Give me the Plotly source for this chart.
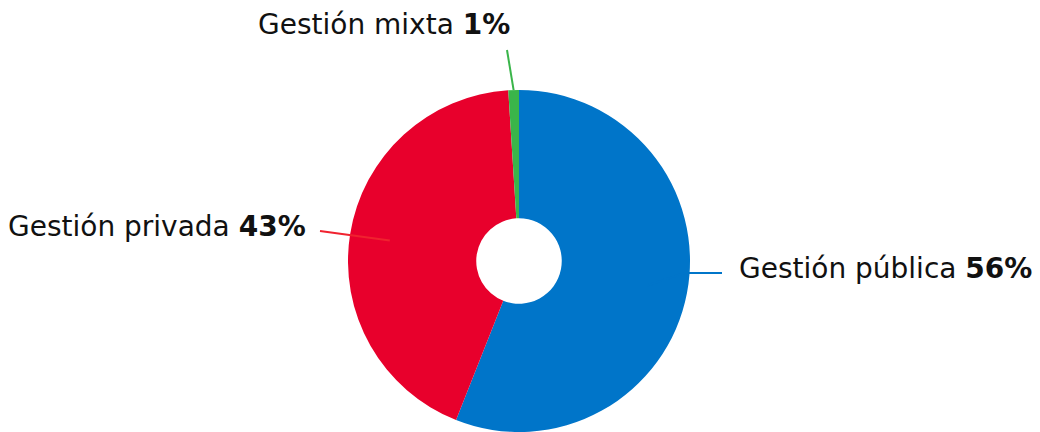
import math
import plotly.graph_objects as go

# ---- data ----
categories = ["Gestión pública", "Gestión privada", "Gestión mixta"]
values = [56, 43, 1]
colors = ["#0075C9", "#E8002C", "#3AB54A"]
line_colors = ["#0075C9", "#F0222F", "#3AB54A"]

# ---- layout constants (pixels) ----
W, H = 1040, 432
CX, CY, R = 519, 261, 171          # pie centre / radius in px (from top-left)
HOLE = 0.25
FONT = "DejaVu Sans"
FSIZE = 28

# leader-line outer ends, optional elbows, and text anchors, in px
line_out = [(722, 273), (320, 231), (507, 50)]
elbows = [(684, 273), None, None]
text_pos = [(737, 268, "left"), (308, 227, "right"), (512, 25, "right")]
inner_frac = [0.765, 0.765, 1.0]

def px2paper(x, y):
    return x / W, 1 - y / H

fig = go.Figure(go.Pie(
    labels=categories, values=values, sort=False, direction="clockwise",
    rotation=0, hole=HOLE, textinfo="none", hoverinfo="label+percent",
    marker=dict(colors=colors, line=dict(width=0)),
    domain=dict(x=[(CX - R) / W, (CX + R) / W], y=[0, 2 * R / H]),
    showlegend=False,
))

total = sum(values)
cum = 0
shapes, annotations = [], []
for i, (cat, v) in enumerate(zip(categories, values)):
    mid = (cum + v / 2) / total * 2 * math.pi
    cum += v
    r = R * inner_frac[i]
    pts = [(CX + r * math.sin(mid), CY - r * math.cos(mid))]
    if elbows[i]:
        pts.append(elbows[i])
    pts.append(line_out[i])
    path = ""
    for k, (px, py) in enumerate(pts):
        X, Y = px2paper(px, py)
        path += ("M " if k == 0 else " L ") + f"{X:.5f},{Y:.5f}"
    shapes.append(dict(type="path", xref="paper", yref="paper", path=path,
                       line=dict(color=line_colors[i], width=2)))
    tx, ty, anchor = text_pos[i]
    ax, ay = px2paper(tx, ty)
    pct = round(v / total * 100)
    annotations.append(dict(xref="paper", yref="paper", x=ax, y=ay,
                            text=f"{cat} <b>{pct}%</b>", showarrow=False,
                            xanchor=anchor, yanchor="middle",
                            font=dict(family=FONT, size=FSIZE, color="#111111")))

fig.update_layout(
    width=W, height=H, margin=dict(l=0, r=0, t=0, b=0),
    paper_bgcolor="white", plot_bgcolor="white",
    shapes=shapes, annotations=annotations,
)
fig.write_html("out.html", config={"displayModeBar": False},
               post_script="document.body.style.margin='0';")
